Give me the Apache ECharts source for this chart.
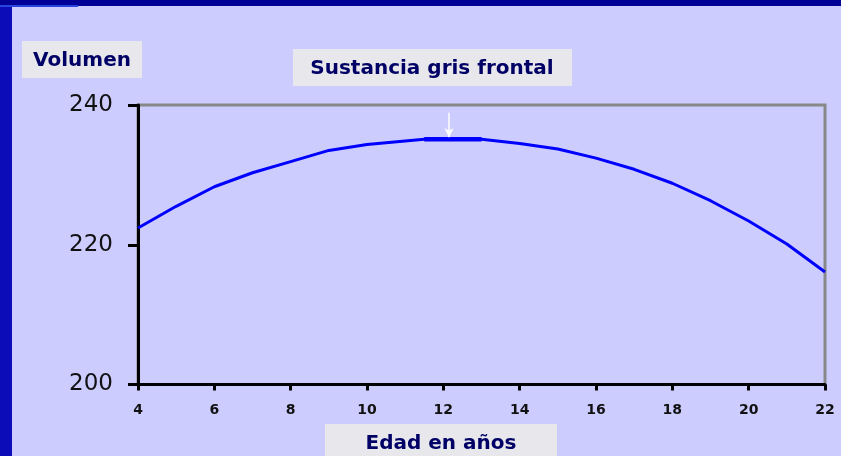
<!DOCTYPE html>
<html>
<head>
<meta charset="utf-8">
<script src="https://cdn.jsdelivr.net/npm/echarts@6/dist/echarts.min.js"></script>
<style>html,body{margin:0;padding:0;background:#ccccff;}#c{width:841px;height:456px;}</style>
</head>
<body>
<div id="c"></div>
<script>
// Data
const ages = [4, 5, 6, 7, 8, 9, 10, 11, 11.5, 13, 14, 15, 16, 17, 18, 19, 20, 21, 22];
const volumes = [222.4, 225.5, 228.3, 230.3, 231.9, 233.5, 234.35, 234.85, 235.1, 235.1, 234.5, 233.7, 232.4, 230.8, 228.8, 226.3, 223.4, 220.1, 216.1];
const plateauAges = [11.5, 13];
const plateauValues = [235.1, 235.1];
const peakArrowAge = 12.15;
const peakArrowFrom = 238.9;
const peakArrowTo = 235.4;
const yTitle = 'Volumen';
const chartTitle = 'Sustancia gris frontal';
const xTitle = 'Edad en años';

const chart = echarts.init(document.getElementById('c'));
const titleFont = 'bold 20px "DejaVu Sans"';
const navy = '#000066';
const boxFill = '#e8e8ec';

chart.setOption({
  backgroundColor: '#ccccff',
  animation: false,
  grid: { left: 138, right: 16, top: 105, bottom: 71.5, show: true, borderColor: '#888888', borderWidth: 3, backgroundColor: 'transparent' },
  xAxis: {
    type: 'value', min: 4, max: 22, interval: 2,
    axisLine: { show: true, onZero: false, lineStyle: { color: '#000', width: 3 } },
    axisTick: { show: true, length: 6, lineStyle: { color: '#000', width: 3 } },
    axisLabel: { color: '#111', fontFamily: 'DejaVu Sans', fontWeight: 'bold', fontSize: 14, margin: 19 },
    splitLine: { show: false }
  },
  yAxis: {
    type: 'value', min: 200, max: 240, interval: 20,
    axisLine: { show: true, onZero: false, lineStyle: { color: '#000', width: 3 } },
    axisTick: { show: true, length: 10, lineStyle: { color: '#000', width: 3 } },
    axisLabel: { color: '#111', fontFamily: 'DejaVu Sans', fontSize: 23, margin: 25 },
    splitLine: { show: false }
  },
  series: [
    {
      type: 'line', data: ages.map((a, i) => [a, volumes[i]]),
      showSymbol: false, smooth: false,
      lineStyle: { color: '#0000ff', width: 3 },
      markLine: {
        silent: true, symbol: ['none', 'arrow'], symbolSize: [7, 9],
        label: { show: false },
        lineStyle: { color: '#ffffff', width: 1.5, type: 'solid' },
        data: [[{ coord: [peakArrowAge, peakArrowFrom] }, { coord: [peakArrowAge, peakArrowTo] }]]
      }
    },
    {
      type: 'line', data: plateauAges.map((a, i) => [a, plateauValues[i]]),
      showSymbol: false, lineStyle: { color: '#0000ff', width: 4.5 }
    }
  ],
  graphic: [
    { type: 'rect', shape: { x: 0, y: 0, width: 12, height: 456 }, style: { fill: '#0c0cb8' }, z: 10 },
    { type: 'rect', shape: { x: 0, y: 0, width: 841, height: 6 }, style: { fill: '#000096' }, z: 10 },
    { type: 'rect', shape: { x: 0, y: 5, width: 78, height: 2 }, style: { fill: '#2a44e0' }, z: 11 },
    { type: 'rect', shape: { x: 22, y: 41, width: 120, height: 37 }, style: { fill: boxFill }, z: 10 },
    { type: 'text', x: 82, y: 61, style: { text: yTitle, font: titleFont, fill: navy, align: 'center', verticalAlign: 'middle' }, z: 11 },
    { type: 'rect', shape: { x: 293, y: 49, width: 279, height: 37 }, style: { fill: boxFill }, z: 10 },
    { type: 'text', x: 432, y: 69, style: { text: chartTitle, font: titleFont, fill: navy, align: 'center', verticalAlign: 'middle' }, z: 11 },
    { type: 'rect', shape: { x: 325, y: 424, width: 232, height: 40 }, style: { fill: boxFill }, z: 10 },
    { type: 'text', x: 441, y: 443.5, style: { text: xTitle, font: titleFont, fill: navy, align: 'center', verticalAlign: 'middle' }, z: 11 }
  ]
});
</script>
</body>
</html>
